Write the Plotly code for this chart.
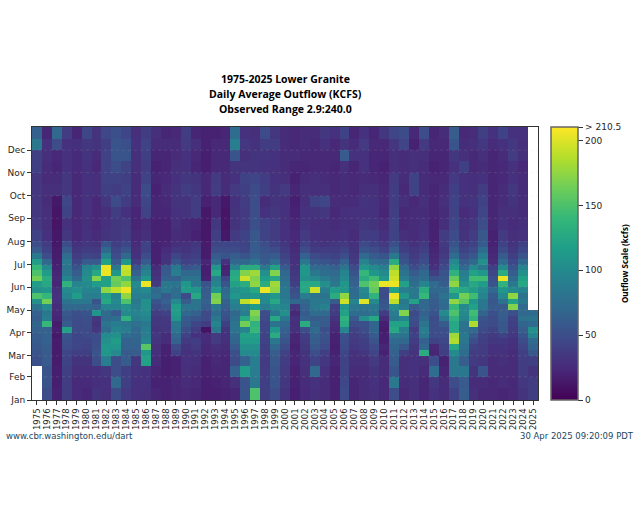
import plotly.graph_objects as go

YEARS = list(range(1975, 2026))
MONTHS = ["Jan","Feb","Mar","Apr","May","Jun","Jul","Aug","Sep","Oct","Nov","Dec"]
MONTH_START = [0,31,59,90,120,151,181,212,243,273,304,334,365]
# bins per month: 2 for Jan, Feb and Aug-Dec, 4 for Mar-Jul
BINS_PER_MONTH = [2,2,4,4,4,4,4,2,2,2,2,2]
N = None
y1975=[N,N,N,52, 55,58,60,62,65,68,62,65,80,105,150,105,115,165,150,140,115,85,60,50, 42,36,35,35,35,35,40,40,85,65]
y1976=[50,55,55,60, 60,62,65,65,65,140,90,85,100,165,140,110,125,130,115,100,70,50,42,38, 30,28,28,26,28,26,26,28,30,22]
y1977=[20,18,18,16, 16,16,16,14,18,16,22,24,26,30,30,28,22,24,22,20,18,16,16,14, 14,12,12,14,28,26,22,24,50,70]
y1978=[38,38,40,42, 45,50,52,55,120,60,55,58,70,80,95,100,135,95,85,80,85,75,60,50, 35,30,42,45,34,34,30,30,30,38]
y1979=[25,25,28,32, 40,45,45,45,48,48,50,52,70,85,115,105,95,70,62,55,45,38,35,30, 24,24,24,24,24,24,25,25,28,22]
y1980=[22,25,28,32, 40,42,45,48,48,50,52,55,70,85,90,95,100,105,100,95,60,45,38,35, 30,28,30,30,30,30,30,32,35,45]
y1981=[32,28,30,50, 55,52,50,50,35,32,35,110,65,55,90,95,115,170,125,105,60,42,36,32, 26,24,24,24,28,28,24,26,32,32]
y1982=[28,30,34,90, 110,110,105,100,75,80,70,72,95,125,120,175,120,120,205,205,120,95,70,55, 32,30,28,34,40,42,42,42,40,46]
y1983=[48,70,50,50, 100,110,115,105,95,90,75,60,95,100,95,190,160,165,110,85,60,50,45,40, 34,34,38,48,38,42,50,55,55,52]
y1984=[36,40,40,60, 60,65,65,75,90,85,135,100,105,150,175,205,175,150,190,195,110,70,55,45, 38,36,30,38,42,40,42,55,52,45]
y1985=[30,30,32,35, 62,65,68,70,72,78,90,95,90,85,90,95,100,80,65,55,38,30,28,26, 24,22,22,26,26,26,28,28,30,28]
y1986=[28,30,30,120, 110,155,95,90,90,85,95,100,105,105,90,100,205,110,95,85,60,50,42,42, 28,26,42,45,48,42,38,40,42,38]
y1987=[22,20,22,26, 28,28,32,34,32,34,34,38,48,55,75,70,36,32,28,26,20,20,20,20, 20,20,22,22,20,22,20,22,26,28]
y1988=[20,20,18,18, 20,20,26,26,34,34,36,42,58,65,60,85,85,65,60,58,32,30,26,22, 20,20,22,24,26,24,22,22,26,22]
y1989=[22,22,20,20, 42,48,65,70,82,85,110,115,115,100,75,75,80,65,90,85,55,45,35,28, 26,28,30,32,32,30,28,26,26,24]
y1990=[24,26,28,30, 30,32,36,42,50,58,60,70,80,62,48,115,110,80,70,55,42,36,32,30, 24,24,32,32,38,34,30,30,36,38]
y1991=[22,24,26,28, 32,36,38,30,38,45,55,65,80,80,125,110,85,80,70,60,45,40,36,34, 20,22,38,38,34,32,22,24,28,22]
y1992=[18,18,20,20, 24,24,26,26,10,38,48,48,60,65,62,60,55,20,18,18,22,16,16,16, 14,14,14,20,24,24,18,18,20,20]
y1993=[18,20,22,24, 26,28,36,36,85,95,85,75,85,170,165,110,95,90,125,110,70,60,50,45, 40,34,24,24,38,36,24,24,24,20]
y1994=[20,22,22,22, 24,26,28,30,32,40,50,55,62,65,75,70,55,45,22,20,30,55,50,45, 14,12,12,14,26,26,24,24,24,22]
y1995=[22,28,65,48, 52,60,68,70,80,80,75,70,90,95,110,105,120,130,125,95,70,62,50,45, 36,32,32,30,36,30,32,55,90,75]
y1996=[55,55,115,65, 100,105,115,120,95,165,125,90,95,190,105,110,130,195,170,130,70,55,45,42, 42,38,36,38,40,42,32,28,34,30]
y1997=[150,85,90,90, 100,105,115,120,140,135,160,170,115,205,110,125,175,170,180,130,80,65,60,60, 58,52,50,50,48,45,32,32,30,28]
y1998=[40,40,38,36, 38,40,42,42,45,45,48,50,90,100,100,205,130,115,105,85,60,58,55,50, 42,42,30,26,40,38,30,32,38,48]
y1999=[50,55,55,58, 62,70,85,130,110,80,125,85,100,125,110,175,180,125,170,120,75,60,50,42, 38,38,34,32,32,30,30,30,38,34]
y2000=[32,34,36,38, 42,48,55,60,65,70,85,105,95,90,85,85,80,75,70,60,48,42,38,34, 30,30,30,30,36,28,26,26,26,26]
y2001=[18,20,20,22, 22,20,22,22,30,28,30,24,35,70,55,50,40,36,35,32,30,28,26,24, 24,22,20,18,22,20,22,26,24,24]
y2002=[25,26,28,30, 32,34,36,40,50,130,65,60,65,70,90,125,125,105,110,110,85,65,50,42, 36,32,30,28,28,26,22,24,26,26]
y2003=[28,30,70,42, 50,58,62,65,72,68,60,75,85,85,80,195,125,100,85,72,58,48,38,34, 30,28,32,42,28,28,24,24,24,26]
y2004=[26,26,30,34, 40,48,52,55,52,60,62,72,92,85,80,90,105,88,75,70,55,45,38,32, 28,28,34,45,28,26,24,24,30,34]
y2005=[20,20,20,22, 20,18,20,20,24,26,32,38,40,60,130,115,85,78,72,65,50,42,38,34, 28,26,24,26,24,24,22,24,24,30]
y2006=[48,46,42,42, 45,48,50,52,95,130,135,120,110,195,175,110,110,100,95,82,65,50,42,36, 30,28,28,26,26,26,28,60,32,42]
y2007=[22,22,26,28, 30,34,36,38,42,50,60,75,85,95,75,72,65,62,55,48,38,34,32,30, 26,28,30,26,24,24,22,30,26,22]
y2008=[26,26,26,28, 34,38,40,45,50,52,105,75,82,200,95,100,150,130,140,110,95,72,55,48, 38,34,30,32,28,26,30,30,36,30]
y2009=[28,30,32,36, 44,48,54,60,68,68,125,80,85,100,135,160,165,145,110,100,75,60,50,42, 38,32,30,30,28,24,22,22,24,22]
y2010=[24,24,26,26, 20,22,18,18,16,18,26,38,58,55,48,50,205,110,100,90,70,55,42,36, 30,26,22,24,24,22,20,22,24,34]
y2011=[50,85,55,60, 65,68,72,85,125,120,85,90,100,190,205,120,205,195,190,175,130,85,62,52, 42,42,40,38,38,36,28,28,34,45]
y2012=[24,26,28,28, 40,58,70,80,90,120,95,170,90,85,110,90,120,90,80,70,55,48,40,36, 28,24,24,28,24,26,26,26,44,48]
y2013=[28,28,30,30, 32,35,38,42,38,48,52,48,60,120,85,85,75,70,60,50,42,36,34,30, 26,26,26,24,42,42,28,28,20,24]
y2014=[22,22,25,28, 130,70,65,85,90,80,70,65,70,70,140,130,95,75,70,62,50,46,40,36, 30,28,26,28,26,26,26,28,36,50]
y2015=[30,35,75,50, 22,24,42,50,50,52,48,55,60,62,65,70,72,55,40,30,26,24,22,20, 20,20,22,22,22,24,20,22,24,22]
y2016=[26,26,22,20, 40,42,46,50,52,60,85,100,72,75,80,72,62,58,55,48,42,36,34,36, 38,28,26,28,26,24,22,22,24,26]
y2017=[42,50,85,85, 100,125,185,180,125,125,135,150,140,175,110,135,175,160,135,110,100,75,62,55, 48,45,42,42,40,36,30,34,55,62]
y2018=[62,60,85,62, 75,78,82,85,78,80,95,100,100,155,165,125,105,95,90,72,60,50,42,38, 32,30,26,30,30,30,40,28,26,24]
y2019=[28,26,32,36, 38,42,50,60,72,185,135,145,120,110,145,115,125,145,120,100,70,58,48,42, 38,34,30,32,28,28,24,24,28,26]
y2020=[24,26,55,35, 38,38,40,42,48,52,55,68,82,85,95,100,115,145,110,85,105,90,75,60, 58,50,45,42,38,30,26,28,34,40]
y2021=[24,24,26,26, 30,30,34,36,42,48,48,52,60,58,60,70,55,52,45,40,26,24,22,20, 20,22,22,22,22,22,22,22,26,30]
y2022=[22,26,26,28, 30,32,34,42,58,58,60,62,60,78,100,110,135,205,130,100,72,60,48,42, 36,30,28,26,26,24,24,26,30,42]
y2023=[24,24,26,26, 26,28,30,34,38,40,42,52,170,120,175,100,85,72,62,55,46,40,34,32, 28,26,28,32,34,30,30,38,34,30]
y2024=[32,34,38,38, 40,44,48,55,62,68,78,70,72,85,80,95,125,120,105,95,70,55,46,40, 30,28,26,26,26,26,24,28,28,30]
y2025=[38,38,32,40, 58,68,72,95,105,72,80,72,N,N,N,N,N,N,N,N,N,N,N,N, N,N,N,N,N,N,N,N,N,N]
COLUMNS = [y1975,y1976,y1977,y1978,y1979,y1980,y1981,y1982,y1983,y1984,y1985,y1986,y1987,y1988,y1989,y1990,y1991,
           y1992,y1993,y1994,y1995,y1996,y1997,y1998,y1999,y2000,y2001,y2002,y2003,y2004,y2005,y2006,y2007,y2008,
           y2009,y2010,y2011,y2012,y2013,y2014,y2015,y2016,y2017,y2018,y2019,y2020,y2021,y2022,y2023,y2024,y2025]
CB_TICKS = [0,50,100,150,200,210.5]
CB_LABELS = ["0","50","100","150","200","> 210.5"]

edges = []
for m, n in enumerate(BINS_PER_MONTH):
    a, b = MONTH_START[m], MONTH_START[m + 1]
    edges += [a + (b - a) * k / n for k in range(n)]
edges.append(365)
nbins = len(edges) - 1
for yr, col in zip(YEARS, COLUMNS):
    assert len(col) == nbins, (yr, len(col))
z = [[col[i] for col in COLUMNS] for i in range(nbins)]

FONT = "DejaVu Sans"
HEAD = "Open Sans"
TXT = "#262626"
fig = go.Figure(go.Heatmap(
    x=YEARS, y=edges, z=z, zmin=0, zmax=210.5, colorscale="Viridis", xgap=0, ygap=0,
    colorbar=dict(x=1.0257, xanchor="left", y=0.5, yanchor="middle", len=1, lenmode="fraction",
                  thickness=27, thicknessmode="pixels", xpad=0, ypad=0,
                  tickmode="array", tickvals=CB_TICKS, ticktext=CB_LABELS, ticks="outside", ticklen=5,
                  tickcolor="#333", tickfont=dict(family=FONT, size=9, color=TXT),
                  outlinecolor="#666", outlinewidth=1.5),
))
fig.update_layout(
    width=640, height=512, paper_bgcolor="white", plot_bgcolor="white",
    margin=dict(l=32, r=102, t=127, b=112, autoexpand=False),
    font=dict(family=FONT, size=9, color=TXT),
    xaxis=dict(range=[1974.5, 2025.5], tickmode="array", tickvals=YEARS, ticktext=[str(y) for y in YEARS], automargin=False,
               tickangle=-90, ticks="outside", ticklen=4, tickcolor="#333", showgrid=False, zeroline=False,
               showline=True, mirror=True, linecolor="#333", linewidth=1, tickfont=dict(size=8.5, color=TXT)),
    yaxis=dict(range=[0, 365], tickmode="array", tickvals=MONTH_START[:12], ticktext=MONTHS, automargin=False,
               ticks="outside", ticklen=4, tickcolor="#333", showgrid=False, zeroline=False,
               showline=True, mirror=True, linecolor="#333", linewidth=1, tickfont=dict(size=9, color=TXT)),
    shapes=[dict(type="line", xref="paper", x0=0, x1=1, yref="y", y0=t, y1=t, layer="above",
                 line=dict(color="rgba(200,200,200,0.14)", width=1, dash="dot")) for t in MONTH_START[1:12]],
    annotations=[
        dict(text="<b>1975-2025 Lower Granite</b>", xref="paper", yref="paper", x=0.5, y=1.176,
             xanchor="center", yanchor="middle", showarrow=False, font=dict(size=10.5, color="black", family=HEAD)),
        dict(text="<b>Daily Average Outflow (KCFS)</b>", xref="paper", yref="paper", x=0.5, y=1.121,
             xanchor="center", yanchor="middle", showarrow=False, font=dict(size=10.5, color="black", family=HEAD)),
        dict(text="<b>Observed Range 2.9:240.0</b>", xref="paper", yref="paper", x=0.5, y=1.066,
             xanchor="center", yanchor="middle", showarrow=False, font=dict(size=10.5, color="black", family=HEAD)),
        dict(text="www.cbr.washington.edu/dart", xref="paper", yref="paper", x=-0.0553, y=-0.133,
             xanchor="left", yanchor="middle", showarrow=False, font=dict(size=8.5, color="#19475f", family=FONT)),
        dict(text="30 Apr 2025 09:20:09 PDT", xref="paper", yref="paper", x=1.194, y=-0.133,
             xanchor="right", yanchor="middle", showarrow=False, font=dict(size=8.5, color="#19475f", family=FONT)),
        dict(text="<b>Outflow Scale (kcfs)</b>", xref="paper", yref="paper", x=1.171, y=0.5, textangle=-90,
             xanchor="center", yanchor="middle", showarrow=False, font=dict(size=8, color="black", family=HEAD)),
    ],
)
fig.write_html("out.html", post_script="document.body.style.margin='0';", config=dict(displayModeBar=False))
